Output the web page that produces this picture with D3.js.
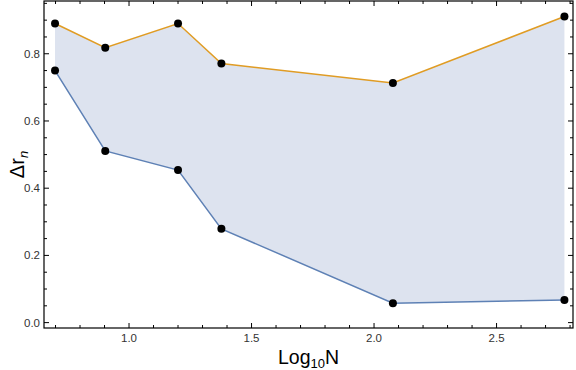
<!DOCTYPE html>
<html><head><meta charset="utf-8">
<script src="https://cdn.jsdelivr.net/npm/d3@7"></script>
<style>body{margin:0;background:#fff}svg{display:block}</style>
</head><body>
<script>
const logN = [0.698, 0.903, 1.200, 1.377, 2.077, 2.777];
const upper = [0.890, 0.818, 0.890, 0.771, 0.713, 0.911];
const lower = [0.750, 0.511, 0.454, 0.279, 0.058, 0.067];
const xTicks = [1.0, 1.5, 2.0, 2.5];
const yTicks = [0.0, 0.2, 0.4, 0.6, 0.8];

const W = 576, H = 370;
const L = 44, R = 573, T = 1, B = 328;
const svg = d3.select("body").append("svg").attr("width", W).attr("height", H)
  .style("font-family", "'Liberation Sans', Arial, sans-serif");

const x = d3.scaleLinear().domain([0.653, 2.812]).range([L, R]);
const y = d3.scaleLinear().domain([-0.016, 0.957]).range([B, T]);

const data = logN.map((v, i) => ({x: v, lo: lower[i], hi: upper[i]}));

svg.append("path").datum(data)
  .attr("d", d3.area().x(d => x(d.x)).y0(d => y(d.lo)).y1(d => y(d.hi)))
  .attr("fill", "#dde3ef");

svg.append("path").datum(data)
  .attr("d", d3.line().x(d => x(d.x)).y(d => y(d.hi)))
  .attr("fill", "none").attr("stroke", "#e09c24").attr("stroke-width", 1.5);
svg.append("path").datum(data)
  .attr("d", d3.line().x(d => x(d.x)).y(d => y(d.lo)))
  .attr("fill", "none").attr("stroke", "#5e81b5").attr("stroke-width", 1.5);

const pts = data.flatMap(d => [{x: d.x, v: d.hi}, {x: d.x, v: d.lo}]);
svg.selectAll("circle.p").data(pts).join("circle")
  .attr("cx", d => x(d.x)).attr("cy", d => y(d.v)).attr("r", 4).attr("fill", "#000");

// frame
svg.append("rect").attr("x", L).attr("y", T).attr("width", R - L).attr("height", B - T)
  .attr("fill", "none").attr("stroke", "#000").attr("stroke-width", 1.2);

const xMinor = d3.range(7, 29).map(v => v / 10);
const yMinor = d3.range(0, 20).map(v => v / 20);
const g = svg.append("g").attr("stroke", "#000").attr("stroke-width", 1);
function xt(v, len) {
  const px = x(v);
  if (px <= L || px >= R) return;
  g.append("line").attr("x1", px).attr("x2", px).attr("y1", B).attr("y2", B - len);
  g.append("line").attr("x1", px).attr("x2", px).attr("y1", T).attr("y2", T + len);
}
function yt(v, len) {
  const py = y(v);
  if (py <= T || py >= B) return;
  g.append("line").attr("x1", L).attr("x2", L + len).attr("y1", py).attr("y2", py);
  g.append("line").attr("x1", R).attr("x2", R - len).attr("y1", py).attr("y2", py);
}
xMinor.forEach(v => xt(v, xTicks.some(t => Math.abs(t - v) < 1e-6) ? 5 : 3));
yMinor.forEach(v => yt(v, yTicks.some(t => Math.abs(t - v) < 1e-6) ? 5 : 3));

svg.selectAll("text.xt").data(xTicks).join("text")
  .attr("x", d => x(d)).attr("y", B + 14).attr("text-anchor", "middle")
  .attr("font-size", 11.5).attr("fill", "#333").text(d => d.toFixed(1));
svg.selectAll("text.yt").data(yTicks).join("text")
  .attr("x", L - 4).attr("y", d => y(d) + 4).attr("text-anchor", "end")
  .attr("font-size", 11.5).attr("fill", "#333").text(d => d.toFixed(1));

const xl = svg.append("text").attr("x", (L + R) / 2).attr("y", 364).attr("text-anchor", "middle")
  .attr("font-size", 19.5).attr("fill", "#000");
xl.append("tspan").text("Log");
xl.append("tspan").attr("font-size", 13).attr("dy", 4).text("10");
xl.append("tspan").attr("dy", -4).text("N");

const yl = svg.append("text").attr("transform", `translate(24,${(T + B) / 2}) rotate(-90)`)
  .attr("text-anchor", "middle").attr("font-size", 20).attr("fill", "#000");
yl.append("tspan").text("Δr");
yl.append("tspan").attr("font-size", 13).attr("dy", 4).attr("font-style", "italic").text("n");
</script>
</body></html>
